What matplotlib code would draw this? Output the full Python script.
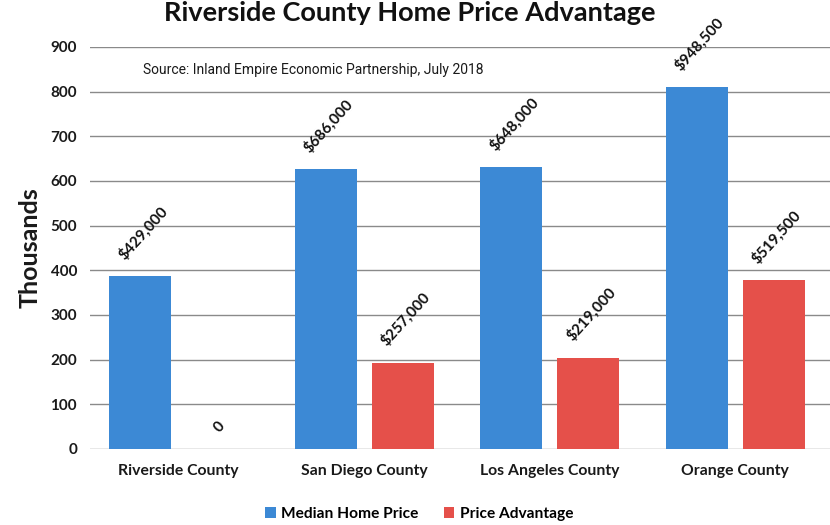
import matplotlib
matplotlib.use("Agg")
import matplotlib.pyplot as plt
import numpy as np

plt.rcParams['font.family'] = ['Lato', 'DejaVu Sans']

categories = ["Riverside County", "San Diego County", "Los Angeles County", "Orange County"]
median_price = [387, 627, 631, 810]
price_advantage = [0, 193, 204, 378]
median_labels = ["$429,000", "$686,000", "$648,000", "$948,500"]
advantage_labels = ["0", "$257,000", "$219,000", "$519,500"]
series_names = ["Median Home Price", "Price Advantage"]
yticks = [0, 100, 200, 300, 400, 500, 600, 700, 800, 900]

blue = "#3C89D5"
red = "#E5504A"

fig = plt.figure(figsize=(8.3, 5.25), dpi=100)
ax = fig.add_axes([0.108, 0.1448, 0.892, 0.7657])

x = np.arange(len(categories))
w = 0.335
off = 0.208
b1 = ax.bar(x - off, median_price, w, color=blue, label=series_names[0], zorder=3)
b2 = ax.bar(x + off, price_advantage, w, color=red, label=series_names[1], zorder=3)

for bars, labs in ((b1, median_labels), (b2, advantage_labels)):
    for rect, lab in zip(bars, labs):
        ax.annotate(lab, (rect.get_x() + rect.get_width() / 2, rect.get_height()),
                    xytext=(2, 10), textcoords="offset points", ha="center", va="bottom",
                    rotation=48, fontsize=11, fontweight="bold", color="#111111",
                    annotation_clip=False, zorder=5)

ax.set_ylim(0, 900)
ax.set_xlim(-0.48, 3.51)
ax.set_yticks(yticks)
ax.set_yticklabels([str(t) for t in yticks], fontsize=11, fontweight="bold", color="#1a1a1a")
ax.set_xticks(x)
ax.set_xticklabels(categories, fontsize=11.3, fontweight="bold", color="#1a1a1a")
ax.tick_params(axis="both", length=0)
ax.tick_params(axis="y", pad=9)
ax.tick_params(axis="x", pad=11)
ax.grid(axis="y", color="#8a8a8a", linewidth=1, zorder=0)
for s in ax.spines.values():
    s.set_visible(False)

ax.set_ylabel("Thousands", fontsize=18, fontweight="bold", color="#1a1a1a", labelpad=6)

fig.text(0.494, 0.976, "Riverside County Home Price Advantage", ha="center", va="center",
         fontsize=19.5, fontweight="bold", color="#111111")
fig.text(0.172, 0.866, "Source: Inland Empire Economic Partnership, July 2018", ha="left",
         va="center", fontsize=10, color="#1a1a1a", family=["Roboto", "DejaVu Sans"])

leg = fig.legend(handles=[b1, b2], labels=series_names, loc="center", bbox_to_anchor=(0.505, 0.021),
                 ncol=2, frameon=False, handlelength=0.7, handleheight=0.7,
                 columnspacing=1.6, handletextpad=0.35, prop={"weight": "bold", "size": 11.2})

fig.savefig("out.png", dpi=100)
